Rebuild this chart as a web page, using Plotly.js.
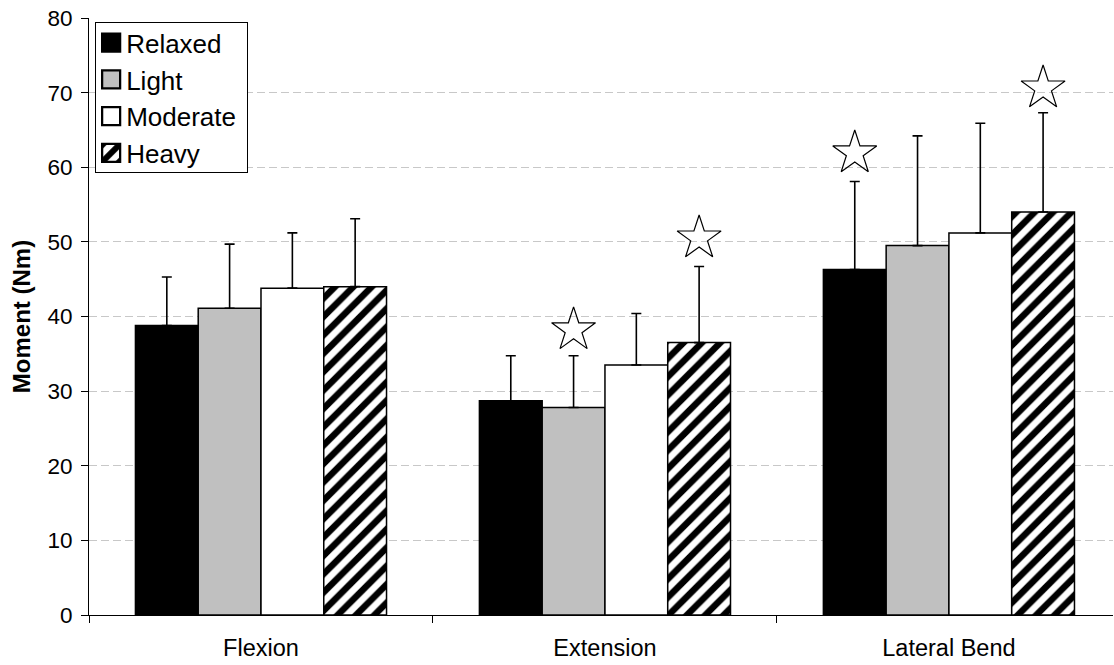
<!DOCTYPE html>
<html>
<head>
<meta charset="utf-8">
<script src="https://cdn.plot.ly/plotly-3.0.1.min.js"></script>
<style>html,body{margin:0;padding:0;background:#fff;}#chart{width:1114px;height:665px;}</style>
</head>
<body>
<div id="chart"></div>
<script>
var categories = ["Flexion", "Extension", "Lateral Bend"];
var seriesNames = ["Relaxed", "Light", "Moderate", "Heavy"];
var relaxed  = [38.8, 28.7, 46.3];
var light    = [41.1, 27.8, 49.5];
var moderate = [43.8, 33.5, 51.2];
var heavy    = [44.0, 36.5, 54.0];
var relaxedErr  = [6.5, 6.05, 11.8];
var lightErr    = [8.6, 6.95, 14.7];
var moderateErr = [7.4, 6.9, 14.7];
var heavyErr    = [9.1, 10.2, 13.3];
// significance stars: [categoryIndex, seriesIndex, y]
var starCat    = [1, 1, 2, 2];
var starSeries = [1, 3, 0, 3];
var starY      = [38.2, 50.5, 61.9, 70.6];
var yTicks = [0, 10, 20, 30, 40, 50, 60, 70, 80];

var values = [relaxed, light, moderate, heavy];
var errs = [relaxedErr, lightErr, moderateErr, heavyErr];
var fills = ["#000000", "#c0c0c0", "#ffffff", "#ffffff"];
var FONT = "Liberation Sans, Arial, sans-serif";
var bargap = 0.27;
var barW = (1 - bargap) / seriesNames.length;

var traces = seriesNames.map(function (name, i) {
  var marker = {color: fills[i], line: {color: "#000", width: 1.5}};
  if (name === "Heavy") {
    marker.pattern = {shape: "/", fgcolor: "#000", bgcolor: "#fff", size: 13, solidity: 0.5, fillmode: "replace"};
  }
  return {
    type: "bar", name: name, x: categories, y: values[i], marker: marker,
    error_y: {type: "data", symmetric: false, array: errs[i], arrayminus: errs[i].map(function(){return 0;}),
              color: "#000", thickness: 1.6, width: 5}
  };
});

traces.push({
  type: "scatter", mode: "markers", xaxis: "x2", yaxis: "y", showlegend: false, hoverinfo: "skip",
  x: starCat.map(function (c, k) { return c + (starSeries[k] - 1.5) * barW; }),
  y: starY,
  marker: {symbol: "star-open", size: 33, color: "#000", line: {width: 1.2, color: "#000"}}
});

var xr = [-0.5, 2.477];
var layout = {
  width: 1114, height: 665,
  margin: {l: 89, r: 1, t: 18, b: 50},
  paper_bgcolor: "#fff", plot_bgcolor: "#fff",
  font: {family: FONT, size: 22, color: "#000"},
  barmode: "group", bargap: bargap, bargroupgap: 0,
  showlegend: true,
  legend: {x: 0.006, y: 0.993, xanchor: "left", yanchor: "top", bgcolor: "#fff",
           bordercolor: "#000", borderwidth: 1, font: {size: 26, family: FONT},
           tracegroupgap: 0, itemwidth: 30},
  xaxis: {type: "category", range: xr, tickson: "boundaries", ticks: "outside", ticklen: 7,
          tickcolor: "#000", showline: true, linecolor: "#000", linewidth: 1, showgrid: false,
          zeroline: false, tickfont: {size: 23.5}, ticklabelstandoff: 12, fixedrange: true},
  xaxis2: {type: "linear", overlaying: "x", range: xr, visible: false, fixedrange: true},
  yaxis: {range: [0, 80], tickvals: yTicks, ticks: "outside", ticklen: 7, tickcolor: "#000",
          showline: true, linecolor: "#000", linewidth: 1, showgrid: true, gridcolor: "#c8c8c8",
          griddash: "8px,4px", gridwidth: 1, zeroline: false, tickfont: {size: 22.5},
          ticklabelstandoff: 4,
          title: {text: "<b>Moment (Nm)</b>", font: {size: 24}, standoff: 10}}
};

Plotly.newPlot("chart", traces, layout, {displayModeBar: false, staticPlot: true}).then(function (gd) {
  // Excel-style legend: larger swatches, tighter text spacing
  var shift = 10;
  gd.querySelectorAll(".legend .traces").forEach(function (tr) {
    var tt = tr.getAttribute("transform") || "";
    tr.setAttribute("transform", tt + " translate(0,-4)");
    tr.querySelectorAll(".legendpoints path").forEach(function (p) {
      var old = p.getAttribute("transform") || "";
      p.setAttribute("transform", old + " translate(-5,0) scale(1.5)");
    });
    var t = tr.querySelector("text.legendtext");
    if (t) t.setAttribute("x", parseFloat(t.getAttribute("x")) - shift);
  });
  var bg = gd.querySelector(".legend rect.bg");
  if (bg) {
    bg.setAttribute("width", parseFloat(bg.getAttribute("width")) - 4);
    bg.setAttribute("height", parseFloat(bg.getAttribute("height")) - 9);
  }
});
</script>
</body>
</html>
